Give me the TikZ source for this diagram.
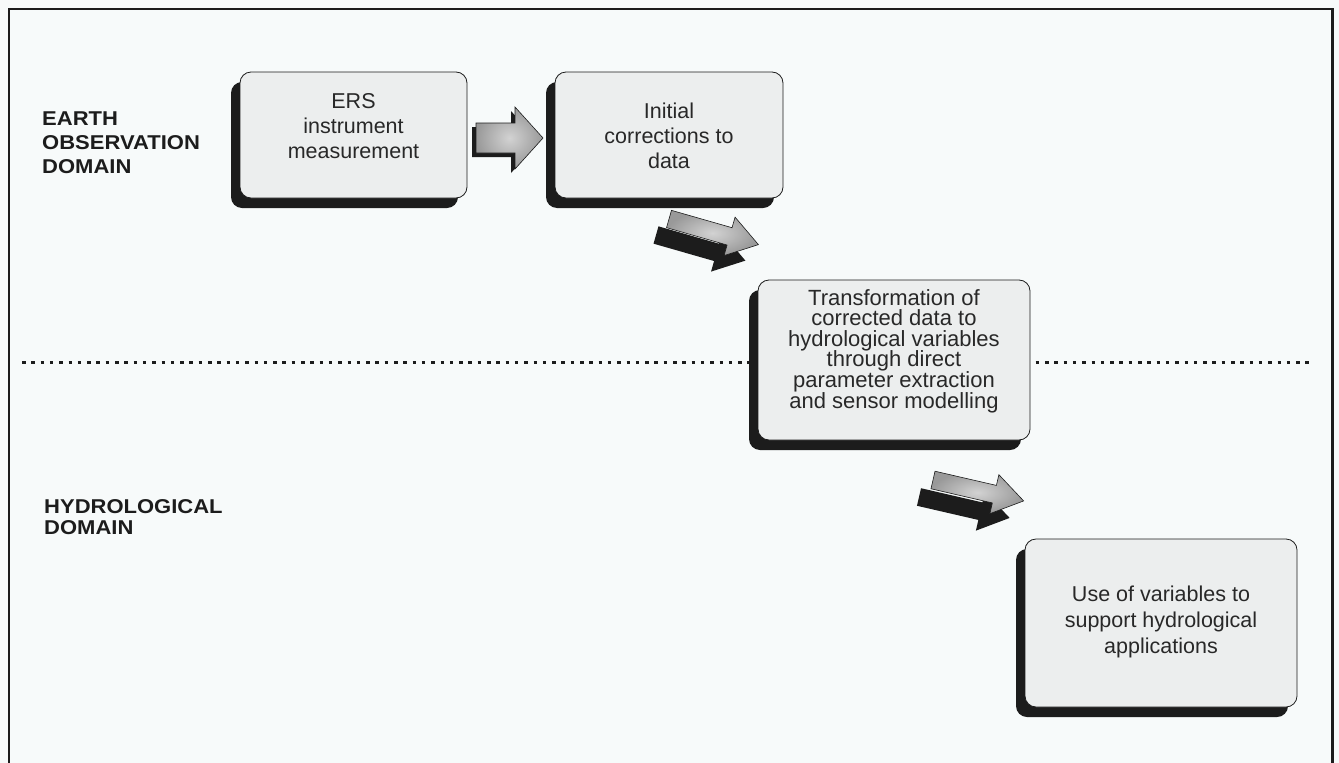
\documentclass[tikz,border=0pt]{standalone}
\usepackage{fontspec}
\setmainfont{Liberation Sans}
\usetikzlibrary{calc,shadows}

\definecolor{paper}{RGB}{247,250,250}
\definecolor{boxface}{RGB}{236,238,238}
\definecolor{boxshade}{RGB}{28,28,28}
\definecolor{ink}{RGB}{40,40,40}

% outline of a block arrow lying along the x axis, tail centre at the origin
% #1 length, #2 head length, #3 body half-width, #4 head half-width
\newcommand{\arrowoutline}[4]{%
  (0,-#3) -- ({#1-#2},-#3) -- ({#1-#2},-#4) -- (#1,0) --
  ({#1-#2},#4) -- ({#1-#2},#3) -- (0,#3) -- cycle}

% raised block arrow: #1 tail centre, #2 angle, #3 length, #4 head length,
% #5 body half-width, #6 head half-width, #7 offset of the dark side
\newcommand{\fatarrow}[7]{%
  \begin{scope}[shift={#1}]
    \begin{scope}[shift={#7}, rotate=#2]
      \fill[boxshade] \arrowoutline{#3}{#4}{#5}{#6};
    \end{scope}
    \begin{scope}[rotate=#2]
      \shadedraw[shading=radial, inner color=gray!35, outer color=gray!80,
        draw=boxshade, line width=0.6pt]
        \arrowoutline{#3}{#4}{#5}{#6};
    \end{scope}
  \end{scope}}

\begin{document}
\begin{tikzpicture}[x=1pt, y=-1pt,
  card/.style={draw=boxshade, line width=0.8pt, fill=boxface,
    rounded corners=11pt, inner sep=0pt, outer sep=0pt,
    drop shadow={shadow xshift=-9pt, shadow yshift=-10pt,
      fill=boxshade, opacity=1, rounded corners=11pt}},
  cardtext/.style={text=ink, align=center, inner sep=0pt,
    font=\fontsize{21.5}{25}\selectfont},
  densetext/.style={text=ink, align=center, inner sep=0pt,
    font=\fontsize{22}{20.6}\selectfont},
  zonelabel/.style={text=boxshade, align=left, inner sep=0pt, anchor=base west,
    xscale=1.1, font=\bfseries\fontsize{20}{24}\selectfont},
  divider/.style={boxshade, line width=3pt, dash pattern=on 3.5pt off 5.8pt}]

\fill[paper] (0,0) rectangle (1339,763);
\useasboundingbox (0,0) rectangle (1339,763);

% outer frame, open at the foot of the page
\draw[boxshade, line width=1.4pt] (9,775) -- (9,9) -- (1332,9);
\draw[boxshade, line width=3pt] (1332,8.3) -- (1332,775);

% boundary between the two domains
\draw[divider] (22,362) -- (1312,362);

% domain labels (placed by the baseline of their last line)
\node[zonelabel] (eo) at (42,173) {EARTH\\OBSERVATION\\DOMAIN};
\node[zonelabel, font=\bfseries\fontsize{20}{21}\selectfont] (hy) at (44,534)
  {HYDROLOGICAL\\DOMAIN};

% processing stages
\node[card, minimum width=227pt, minimum height=126pt] (b1) at (353.5,135) {};
\node[card, minimum width=228pt, minimum height=126pt] (b2) at (669,135) {};
\node[card, minimum width=272pt, minimum height=160pt] (b3) at (894,360) {};
\node[card, minimum width=272pt, minimum height=168pt] (b4) at (1161,623) {};

\node[cardtext] (t1) at ($(b1.center)+(0,-9)$) {ERS\\instrument\\measurement};
\node[cardtext] (t2) at ($(b2.center)+(0,1)$) {Initial\\corrections to\\data};
\node[densetext] (t3) at ($(b3.center)+(0,-9)$)
  {Transformation of\\corrected data to\\hydrological variables\\through direct\\parameter extraction\\and sensor modelling};
\node[cardtext, font=\fontsize{21.5}{26}\selectfont] (t4) at ($(b4.center)+(0,-1)$)
  {Use of variables to\\support hydrological\\applications};

% block arrows between the stages
\coordinate (a1) at ($(b1.east)+(9,3)$);
\coordinate (a2) at ($(b2.south)+(0,21)$);
\coordinate (a3) at ($(b3.south)+(39,40)$);
\fatarrow{(a1)}{0}{67}{28}{15}{31}{(-4,4)}
\fatarrow{(a2)}{-16}{93}{30}{9}{20}{(-13,16)}
\fatarrow{(a3)}{-13}{93}{30}{9}{20}{(-14,17)}

\end{tikzpicture}
\end{document}
